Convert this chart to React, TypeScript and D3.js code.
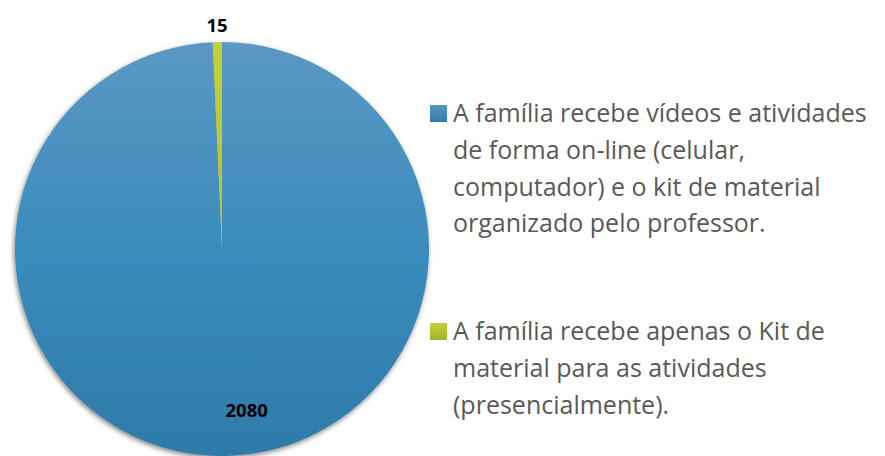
import React, { useEffect, useRef } from 'react';
import * as d3 from 'd3';

const categories = [
  'A família recebe vídeos e atividades de forma on-line (celular, computador) e o kit de material organizado pelo professor.',
  'A família recebe apenas o Kit de material para as atividades (presencialmente).',
];
const values = [2080, 15];
const legendLines = [
  ['A família recebe vídeos e atividades', 'de forma on-line (celular,', 'computador) e o kit de material', 'organizado pelo professor.'],
  ['A família recebe apenas o Kit de', 'material para as atividades', '(presencialmente).'],
];
const colors = [
  ['#5b98c3', '#3a8cbd', '#2e7aa8'],
  ['#c5cf3c', '#b3c132', '#a2b42a'],
];

const W = 885;
const H = 456;
const cx = 222;
const cy = 249;
const R = 207;
const FONT = "'Open Sans', Lato, sans-serif";

export default function App() {
  const ref = useRef<SVGSVGElement>(null);

  useEffect(() => {
    const svg = d3.select(ref.current);
    svg.selectAll('*').remove();

    const defs = svg.append('defs');
    colors.forEach((c, i) => {
      const g = defs.append('linearGradient')
        .attr('id', 'grad' + i)
        .attr('gradientUnits', 'userSpaceOnUse')
        .attr('x1', 0).attr('y1', -R)
        .attr('x2', 0).attr('y2', R);
      g.append('stop').attr('offset', '0%').attr('stop-color', c[0]);
      g.append('stop').attr('offset', '50%').attr('stop-color', c[1]);
      g.append('stop').attr('offset', '100%').attr('stop-color', c[2]);
      const lg = defs.append('linearGradient')
        .attr('id', 'lgrad' + i)
        .attr('x1', 0).attr('y1', 0).attr('x2', 0).attr('y2', 1);
      lg.append('stop').attr('offset', '0%').attr('stop-color', c[0]);
      lg.append('stop').attr('offset', '100%').attr('stop-color', c[2]);
    });
    const f = defs.append('filter').attr('id', 'shadow')
      .attr('x', '-10%').attr('y', '-10%').attr('width', '120%').attr('height', '120%');
    f.append('feDropShadow')
      .attr('dx', -1).attr('dy', 2).attr('stdDeviation', 2.5)
      .attr('flood-color', '#000').attr('flood-opacity', 0.5);

    const pie = d3.pie<number>().sort(null).value(d => d);
    const arcs = pie(values);
    const arc = d3.arc<d3.PieArcDatum<number>>().innerRadius(0).outerRadius(R);

    const g = svg.append('g').attr('transform', `translate(${cx},${cy})`);
    g.append('g').attr('filter', 'url(#shadow)')
      .selectAll('path')
      .data(arcs)
      .enter()
      .append('path')
      .attr('d', arc)
      .attr('fill', (d, i) => `url(#grad${i})`);

    // labels
    const outer = d3.arc<d3.PieArcDatum<number>>().innerRadius(R + 18).outerRadius(R + 18);
    arcs.forEach((d, i) => {
      let x: number, y: number;
      if (i === 0) {
        const a = (d.startAngle + d.endAngle) / 2 - 0.13;
        const rr = R * 0.785;
        x = Math.sin(a) * rr;
        y = -Math.cos(a) * rr;
      } else {
        [x, y] = outer.centroid(d);
      }
      g.append('text')
        .attr('x', x)
        .attr('y', y)
        .attr('text-anchor', 'middle')
        .attr('dominant-baseline', 'central')
        .attr('font-family', FONT)
        .attr('font-weight', 'bold')
        .attr('font-size', 18.5)
        .attr('fill', '#000')
        .text(values[i]);
    });

    // legend
    const legendBase = [122, 340];
    const leg = svg.append('g');
    categories.forEach((c, i) => {
      const item = leg.append('g').attr('transform', `translate(430,${legendBase[i]})`);
      item.append('title').text(c);
      item.append('rect')
        .attr('x', 0).attr('y', -17)
        .attr('width', 17).attr('height', 17)
        .attr('fill', `url(#lgrad${i})`);
      legendLines[i].forEach((line, j) => {
        item.append('text')
          .attr('x', 23)
          .attr('y', j * 36.8)
          .attr('font-family', FONT)
          .attr('font-size', 25)
          .attr('fill', '#595959')
          .text(line);
      });
    });
  }, []);

  return (
    <svg ref={ref} width={W} height={H} style={{ position: 'absolute', left: 0, top: 0, background: '#fff' }} />
  );
}
